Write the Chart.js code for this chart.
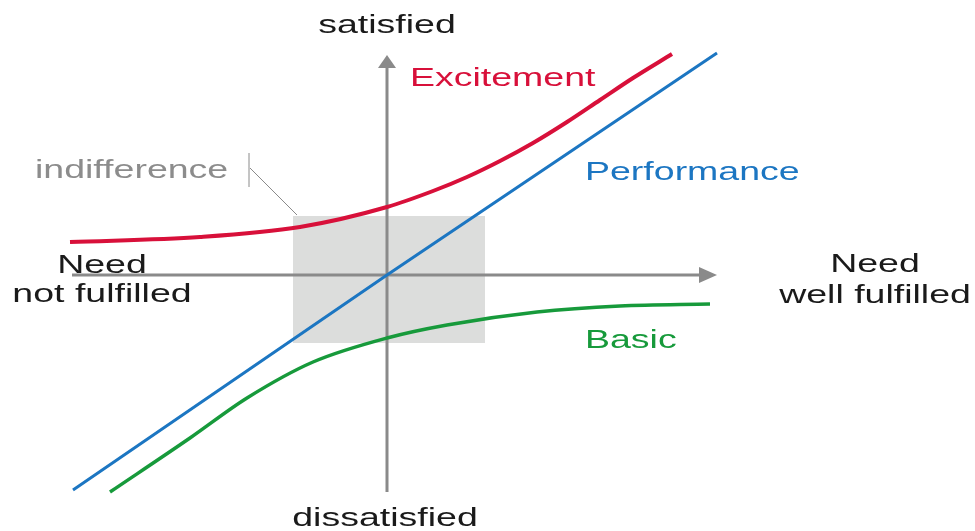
<!DOCTYPE html>
<html>
<head>
<meta charset="utf-8">
<script src="https://cdn.jsdelivr.net/npm/chart.js@4"></script>
<style>
  body { margin: 0; background: #fff; }
  .wrap { width: 975px; height: 531px; }
</style>
</head>
<body>
<div class="wrap"><canvas id="kano"></canvas></div>
<script>
// --- DATA | Kano model --- //
// x = need fulfilment, y = satisfaction (origin in the middle)
const excitementX = [-3.17, -1.87, -0.87, 0, 0.46, 0.80, 1.13, 1.46, 1.80, 2.13, 2.46, 2.85]
const excitementY = [0.33, 0.38, 0.48, 0.68, 0.84, 0.98, 1.14, 1.32, 1.53, 1.75, 1.97, 2.21]

const performanceX = [-3.14, 0, 3.30]
const performanceY = [-2.15, 0, 2.22]

const basicX = [-2.77, -1.97, -1.40, -0.74, 0, 0.60, 1.50, 2.33, 3.23]
const basicY = [-2.17, -1.63, -1.23, -0.87, -0.63, -0.50, -0.37, -0.31, -0.29]

// indifference zone: [xMin, xMax, yMin, yMax]
const indifferenceZone = [-0.94, 0.98, -0.68, 0.59]

// axis extents
const axisX = [-3.15, 3.30]
const axisY = [-2.17, 2.20]

const toPoints = (xs, ys) => xs.map((x, i) => ({ x, y: ys[i] }))

// --- COLORS --- //
const red = '#d8103a'
const blue = '#1c76c2'
const green = '#179a3b'
const axisGray = '#8a8a8a'

// --- BACKGROUND: zone + axes --- //
const kanoBackground = {
  id: 'kanoBackground',
  beforeDatasetsDraw: chart => {
    const ctx = chart.ctx
    const sx = chart.scales.x
    const sy = chart.scales.y
    const [x0, x1, y0, y1] = indifferenceZone

    ctx.save()
    ctx.fillStyle = '#dcdddc'
    const left = sx.getPixelForValue(x0)
    const top = sy.getPixelForValue(y1)
    ctx.fillRect(left, top, sx.getPixelForValue(x1) - left, sy.getPixelForValue(y0) - top)

    // pointer from the label to the zone
    ctx.strokeStyle = axisGray
    ctx.lineWidth = 1
    ctx.beginPath()
    ctx.moveTo(sx.getPixelForValue(-1.38), sy.getPixelForValue(1.22))
    ctx.lineTo(sx.getPixelForValue(-1.38), sy.getPixelForValue(0.88))
    ctx.moveTo(sx.getPixelForValue(-1.37), sy.getPixelForValue(1.07))
    ctx.lineTo(sx.getPixelForValue(-0.90), sy.getPixelForValue(0.60))
    ctx.stroke()

    // axes
    const ox = sx.getPixelForValue(0)
    const oy = sy.getPixelForValue(0)
    const hEnd = sx.getPixelForValue(axisX[1])
    const vEnd = sy.getPixelForValue(axisY[1])

    ctx.strokeStyle = axisGray
    ctx.fillStyle = axisGray
    ctx.lineWidth = 3
    ctx.beginPath()
    ctx.moveTo(sx.getPixelForValue(axisX[0]), oy)
    ctx.lineTo(hEnd - 14, oy)
    ctx.moveTo(ox, sy.getPixelForValue(axisY[0]))
    ctx.lineTo(ox, vEnd + 10)
    ctx.stroke()

    ctx.beginPath()
    ctx.moveTo(hEnd, oy)
    ctx.lineTo(hEnd - 18, oy - 8)
    ctx.lineTo(hEnd - 18, oy + 8)
    ctx.closePath()
    ctx.fill()

    ctx.beginPath()
    ctx.moveTo(ox, vEnd)
    ctx.lineTo(ox - 9, vEnd + 13)
    ctx.lineTo(ox + 9, vEnd + 13)
    ctx.closePath()
    ctx.fill()
    ctx.restore()
  }
}

// --- LABELS (text is stretched wide like the original) --- //
const labels = [
  { text: 'satisfied', x: 0, y: 2.42, color: '#1a1a1a', align: 'center' },
  { text: 'dissatisfied', x: -0.02, y: -2.51, color: '#1a1a1a', align: 'center' },
  { text: 'Excitement', x: 0.23, y: 1.89, color: red, align: 'left' },
  { text: 'Performance', x: 1.98, y: 0.95, color: blue, align: 'left' },
  { text: 'Basic', x: 1.98, y: -0.73, color: green, align: 'left' },
  { text: 'indifference', x: -3.52, y: 0.97, color: '#8c8c8c', align: 'left' },
  { text: 'Need', x: -2.85, y: 0.02, color: '#1a1a1a', align: 'center' },
  { text: 'not fulfilled', x: -2.85, y: -0.27, color: '#1a1a1a', align: 'center' },
  { text: 'Need', x: 4.88, y: 0.03, color: '#1a1a1a', align: 'center' },
  { text: 'well fulfilled', x: 4.88, y: -0.28, color: '#1a1a1a', align: 'center' }
]

const kanoLabels = {
  id: 'kanoLabels',
  afterDatasetsDraw: chart => {
    const ctx = chart.ctx
    const sx = chart.scales.x
    const sy = chart.scales.y
    labels.forEach(l => {
      ctx.save()
      ctx.translate(sx.getPixelForValue(l.x), sy.getPixelForValue(l.y))
      ctx.scale(1.5, 1)
      ctx.font = "25px 'Liberation Sans', Arial, sans-serif"
      ctx.fillStyle = l.color
      ctx.textAlign = l.align
      ctx.textBaseline = 'alphabetic'
      ctx.fillText(l.text, 0, 0)
      ctx.restore()
    })
  }
}

// --- CHART --- //
const lineStyle = { pointRadius: 0, cubicInterpolationMode: 'monotone', fill: false }

const config = {
  type: 'line',
  data: {
    datasets: [
      { label: 'Excitement', data: toPoints(excitementX, excitementY), borderColor: red, borderWidth: 4, ...lineStyle },
      { label: 'Performance', data: toPoints(performanceX, performanceY), borderColor: blue, borderWidth: 3, pointRadius: 0, tension: 0, fill: false },
      { label: 'Basic', data: toPoints(basicX, basicY), borderColor: green, borderWidth: 3.5, ...lineStyle }
    ]
  },
  options: {
    responsive: true,
    maintainAspectRatio: false,
    animation: false,
    layout: { padding: 0 },
    scales: {
      x: { type: 'linear', min: -3.87, max: 5.88, display: false },
      y: { type: 'linear', min: -2.56, max: 2.75, display: false }
    },
    plugins: {
      legend: { display: false },
      tooltip: { enabled: false }
    }
  },
  plugins: [kanoBackground, kanoLabels]
}

const kanoChart = new Chart(document.getElementById('kano'), config)
</script>
</body>
</html>
